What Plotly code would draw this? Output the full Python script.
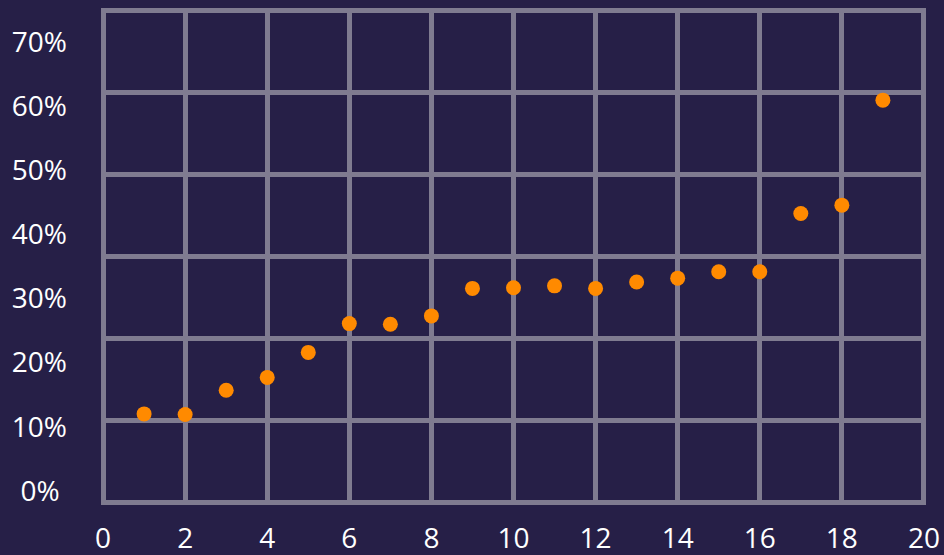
import plotly.graph_objects as go

# Data
x_vals = list(range(1, 20))
y_vals = [0.120, 0.119, 0.157, 0.177, 0.216, 0.261, 0.260, 0.273, 0.316, 0.317,
          0.320, 0.316, 0.326, 0.332, 0.342, 0.342, 0.433, 0.446, 0.610]
y_tick_vals = [0, 0.1, 0.2, 0.3, 0.4, 0.5, 0.6, 0.7]
y_tick_text = ["0%\u00a0", "10%", "20%", "30%", "40%", "50%", "60%", "70%"]
x_tick_vals = list(range(0, 21, 2))

BG = "#261f47"
GRID = "#7f7b90"
ORANGE = "#ff8a00"
FONT = dict(family="Open Sans", size=28, color="#ffffff")

fig = go.Figure()
# invisible helper trace so the grid axis exists
fig.add_trace(go.Scatter(x=[None], y=[None], yaxis="y2", showlegend=False, hoverinfo="skip"))
fig.add_trace(go.Scatter(
    x=x_vals, y=y_vals, mode="markers",
    marker=dict(color=ORANGE, size=15, line=dict(width=0)),
    showlegend=False,
))

fig.update_layout(
    width=944, height=555,
    margin=dict(l=101, r=18, t=8, b=50, autoexpand=False),
    paper_bgcolor=BG, plot_bgcolor=BG,
    font=FONT,
    xaxis=dict(
        range=[-0.05, 20.05], tickvals=x_tick_vals,
        showgrid=True, gridcolor=GRID, gridwidth=5,
        zeroline=False, showline=False, ticks="", automargin=False,
        ticklabelstandoff=14,
    ),
    yaxis=dict(
        range=[-0.0223, 0.7539], tickvals=y_tick_vals, ticktext=y_tick_text,
        showgrid=False, zeroline=False, showline=False, ticks="", automargin=False,
        ticklabelstandoff=33,
    ),
    yaxis2=dict(
        overlaying="y", range=[-0.025, 6.025], dtick=1, tick0=0,
        showgrid=True, gridcolor=GRID, gridwidth=5,
        zeroline=False, showline=False, showticklabels=False, ticks="",
        side="right", automargin=False,
    ),
)

fig.write_html(
    "out.html",
    config={"displayModeBar": False},
    post_script="document.body.style.margin='0';document.body.style.background='#261f47';",
)
